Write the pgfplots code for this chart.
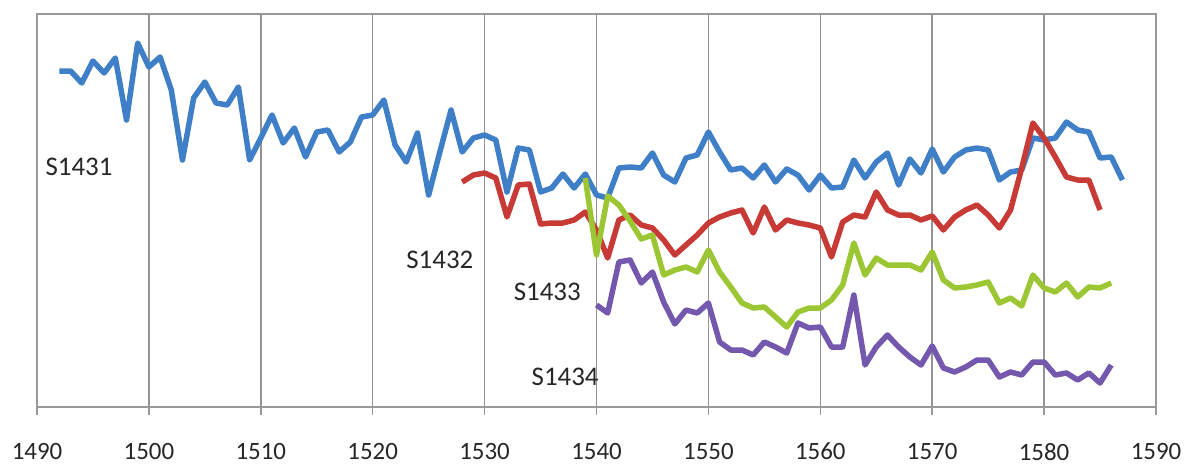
\documentclass[border=0pt]{standalone}
\usepackage{fontspec}
\setmainfont{Carlito}
\usepackage{pgfplots}
\pgfplotsset{compat=1.18}
\definecolor{sblue}{HTML}{3F7FC8}
\definecolor{sred}{HTML}{C83A36}
\definecolor{sgreen}{HTML}{9CC634}
\definecolor{spurple}{HTML}{7358AE}
\begin{document}
\begin{tikzpicture}
\begin{axis}[name=ax, scale only axis, width=559.5bp, height=196.5bp,
  xmin=1490, xmax=1590, ymin=14, ymax=407, y dir=reverse,
  xtick={1490,1500,...,1590}, ytick=\empty, xtick pos=bottom,
  xmajorgrids, major grid style={color=gray!85, line width=0.75bp},
  axis line style={gray!80, line width=1bp},
  tick align=outside, major tick length=4bp,
  x tick style={gray!80, line width=0.75bp},
  xticklabel style={font=\fontsize{12.5}{14}\selectfont, text=black!85, yshift=-10.5bp},
  /pgf/number format/assume math mode=true, /pgf/number format/1000 sep={},
  clip=false,
  every axis plot/.append style={line width=2.75bp, line join=round, no marks}]
\addplot[sblue] coordinates {
(1492,71)(1493,71)(1494,83)(1495,61)(1496,73)(1497,58)(1498,120)(1499,43)(1500,67)(1501,57)
(1502,90)(1503,160)(1504,98)(1505,82)(1506,103)(1507,105)(1508,87)(1509,160)(1510,138)(1511,115)
(1512,143)(1513,128)(1514,157)(1515,132)(1516,130)(1517,152)(1518,142)(1519,117)(1520,115)(1521,100)
(1522,145)(1523,162)(1524,133)(1525,195)(1526,152)(1527,110)(1528,152)(1529,138)(1530,135)(1531,140)
(1532,192)(1533,148)(1534,150)(1535,192)(1536,188)(1537,174)(1538,188)(1539,174)(1540,195)(1541,198)
(1542,168)(1543,167)(1544,168)(1545,153)(1546,175)(1547,182)(1548,158)(1549,155)(1550,132)(1551,152)
(1552,170)(1553,168)(1554,178)(1555,165)(1556,182)(1557,169)(1558,175)(1559,190)(1560,175)(1561,188)
(1562,187)(1563,160)(1564,178)(1565,162)(1566,153)(1567,185)(1568,159)(1569,173)(1570,149)(1571,172)
(1572,157)(1573,150)(1574,148)(1575,150)(1576,180)(1577,172)(1578,170)(1579,138)(1580,140)(1581,138)
(1582,122)(1583,130)(1584,132)(1585,158)(1586,157)(1587,180)};
\addplot[sred] coordinates {
(1528,182)(1529,175)(1530,173)(1531,178)(1532,217)(1533,185)(1534,184)(1535,224)(1536,223)(1537,223)
(1538,220)(1539,212)(1540,230)(1541,258)(1542,220)(1543,215)(1544,225)(1545,228)(1546,240)(1547,255)
(1548,245)(1549,235)(1550,223)(1551,217)(1552,213)(1553,210)(1554,233)(1555,207)(1556,230)(1557,220)
(1558,223)(1559,225)(1560,228)(1561,257)(1562,222)(1563,215)(1564,217)(1565,192)(1566,210)(1567,215)
(1568,215)(1569,220)(1570,216)(1571,230)(1572,217)(1573,210)(1574,205)(1575,215)(1576,228)(1577,210)
(1578,168)(1579,123)(1580,138)(1581,157)(1582,177)(1583,180)(1584,180)(1585,210)};
\addplot[sgreen] coordinates {
(1539,178)(1540,255)(1541,196)(1542,205)(1543,221)(1544,239)(1545,235)(1546,275)(1547,270)(1548,267)
(1549,272)(1550,250)(1551,272)(1552,287)(1553,303)(1554,308)(1555,307)(1556,317)(1557,327)(1558,312)
(1559,308)(1560,308)(1561,300)(1562,285)(1563,243)(1564,275)(1565,258)(1566,265)(1567,265)(1568,265)
(1569,270)(1570,252)(1571,280)(1572,288)(1573,287)(1574,285)(1575,282)(1576,303)(1577,298)(1578,306)
(1579,275)(1580,288)(1581,292)(1582,283)(1583,297)(1584,287)(1585,288)(1586,283)};
\addplot[spurple] coordinates {
(1540,305)(1541,313)(1542,262)(1543,260)(1544,283)(1545,272)(1546,302)(1547,324)(1548,310)(1549,313)
(1550,303)(1551,342)(1552,350)(1553,350)(1554,355)(1555,342)(1556,347)(1557,353)(1558,323)(1559,328)
(1560,327)(1561,347)(1562,347)(1563,295)(1564,365)(1565,347)(1566,335)(1567,347)(1568,357)(1569,365)
(1570,346)(1571,368)(1572,372)(1573,367)(1574,360)(1575,360)(1576,377)(1577,372)(1578,375)(1579,362)
(1580,362)(1581,375)(1582,373)(1583,380)(1584,373)(1585,383)(1586,365)};
\node[font=\fontsize{13.5}{16}\selectfont, text=black!85] at (axis cs:1493.75,167) {S1431};
\node[font=\fontsize{13.5}{16}\selectfont, text=black!85] at (axis cs:1526.0,260) {S1432};
\node[font=\fontsize{13.5}{16}\selectfont, text=black!85] at (axis cs:1535.6,292) {S1433};
\node[font=\fontsize{13.5}{16}\selectfont, text=black!85] at (axis cs:1537.2,377) {S1434};
\end{axis}
\path ([shift={(-18.5bp,-28bp)}]ax.south west) rectangle ([shift={(16bp,7bp)}]ax.north east);
\end{tikzpicture}
\end{document}
